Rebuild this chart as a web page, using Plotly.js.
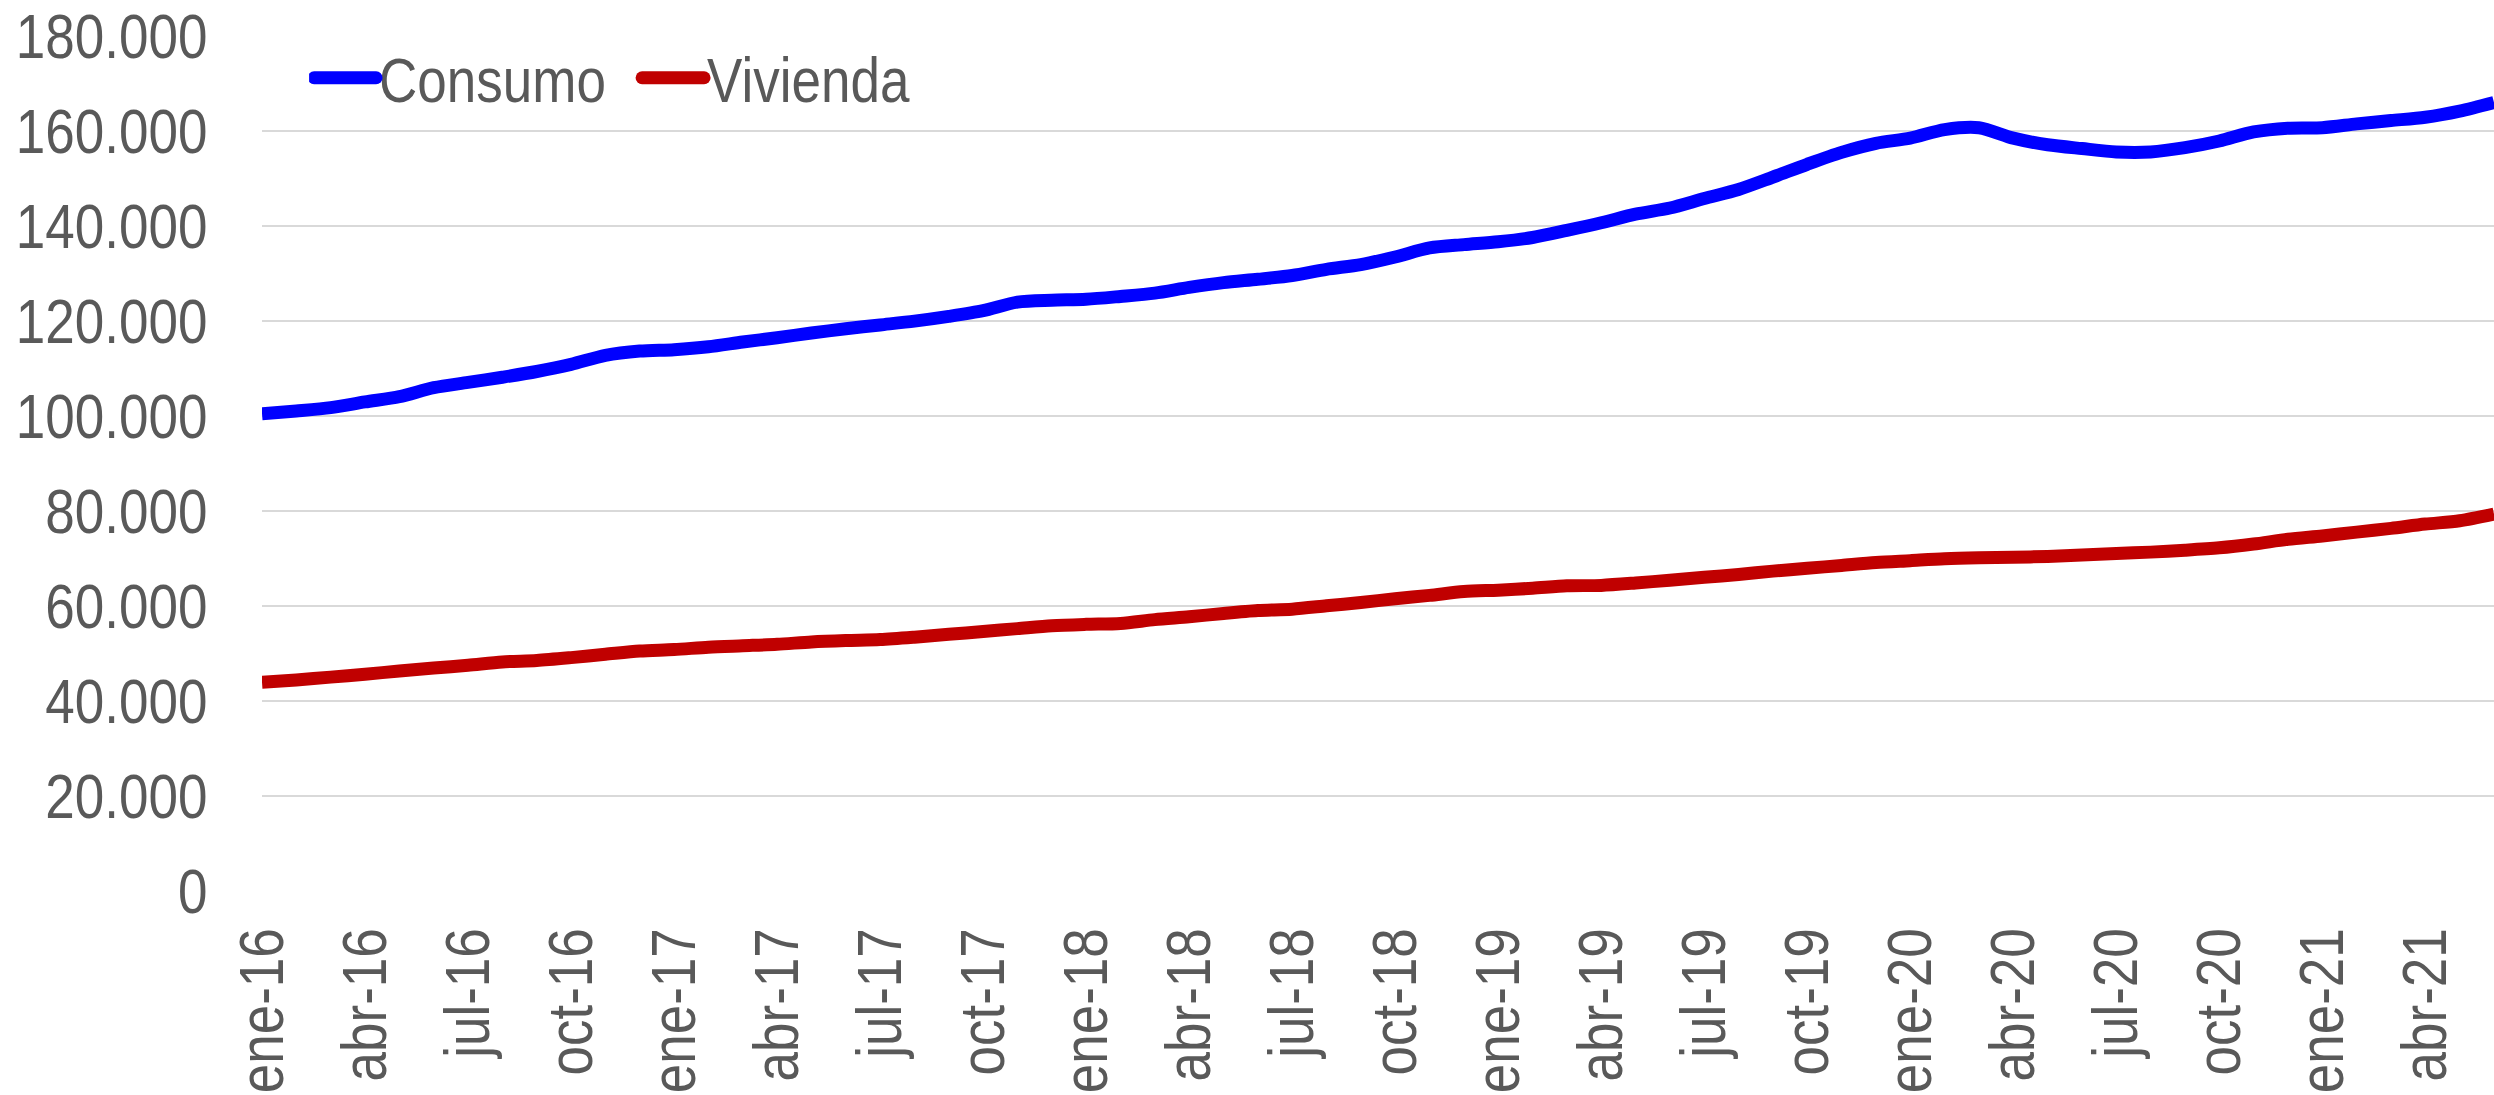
<!DOCTYPE html>
<html>
<head>
<meta charset="utf-8">
<script src="https://cdn.plot.ly/plotly-3.0.1.min.js"></script>
<style>
  html, body { margin: 0; padding: 0; background: #ffffff; }
  #chart { width: 2494px; height: 1095px; }
</style>
</head>
<body>
<div id="chart"></div>
<script>
// Monthly categories, ene-16 .. jun-21
const months = [
  'ene-16','feb-16','mar-16','abr-16','may-16','jun-16','jul-16','ago-16','sep-16','oct-16','nov-16','dic-16',
  'ene-17','feb-17','mar-17','abr-17','may-17','jun-17','jul-17','ago-17','sep-17','oct-17','nov-17','dic-17',
  'ene-18','feb-18','mar-18','abr-18','may-18','jun-18','jul-18','ago-18','sep-18','oct-18','nov-18','dic-18',
  'ene-19','feb-19','mar-19','abr-19','may-19','jun-19','jul-19','ago-19','sep-19','oct-19','nov-19','dic-19',
  'ene-20','feb-20','mar-20','abr-20','may-20','jun-20','jul-20','ago-20','sep-20','oct-20','nov-20','dic-20',
  'ene-21','feb-21','mar-21','abr-21','may-21','jun-21'
];

// Tick labels shown on the x axis (every three months)
const tickLabels = [
  'ene-16','abr-16','jul-16','oct-16',
  'ene-17','abr-17','jul-17','oct-17',
  'ene-18','abr-18','jul-18','oct-18',
  'ene-19','abr-19','jul-19','oct-19',
  'ene-20','abr-20','jul-20','oct-20',
  'ene-21','abr-21'
];

// Consumo
const consumo = [
  100400, 101000, 101700, 102900, 104000, 105900, 107000, 108100, 109300, 110800, 112700, 113600,
  113900, 114500, 115500, 116400, 117400, 118300, 119100, 119900, 120900, 122100, 123900, 124300,
  124500, 125100, 125800, 127000, 128000, 128700, 129500, 130800, 131800, 133400, 135300, 136000,
  136600, 137500, 139000, 140600, 142400, 143700, 145700, 147600, 150200, 152900, 155400, 157300,
  158400, 160200, 160600, 158400, 157000, 156200, 155500, 155500, 156400, 157800, 159700, 160500,
  160600, 161400, 162100, 162800, 164100, 165900
];

// Vivienda
const vivienda = [
  43900, 44400, 45000, 45600, 46300, 46900, 47500, 48200, 48500, 49100, 49800, 50500,
  50800, 51300, 51600, 51900, 52400, 52700, 52900, 53400, 54000, 54600, 55200, 55800,
  56100, 56300, 57100, 57700, 58400, 59000, 59300, 60000, 60700, 61500, 62200, 63000,
  63300, 63700, 64200, 64300, 64800, 65400, 66000, 66600, 67300, 67900, 68500, 69100,
  69500, 69900, 70100, 70200, 70400, 70700, 71000, 71300, 71700, 72200, 73000, 74000,
  74700, 75500, 76300, 77200, 77900, 79300
];

const yTicks = [0, 20000, 40000, 60000, 80000, 100000, 120000, 140000, 160000, 180000];

const mainFont = '"Liberation Sans", Arial, sans-serif';
const textColor = '#595959';

const traces = [
  {
    x: months, y: consumo, name: 'Consumo', type: 'scatter', mode: 'lines',
    line: { color: '#0000FF', width: 13, shape: 'spline', smoothing: 0.8 },
    hoverinfo: 'skip'
  },
  {
    x: months, y: vivienda, name: 'Vivienda', type: 'scatter', mode: 'lines',
    line: { color: '#C00000', width: 13, shape: 'spline', smoothing: 0.8 },
    hoverinfo: 'skip'
  }
];

const layout = {
  width: 2494, height: 1095,
  margin: { l: 262, r: 0, t: 35, b: 204, pad: 0 },
  paper_bgcolor: '#ffffff', plot_bgcolor: '#ffffff',
  separators: ',.',
  showlegend: true,
  legend: {
    orientation: 'h', x: 0.0211, y: 0.95, xanchor: 'left', yanchor: 'middle',
    font: { family: mainFont, size: 53, color: textColor },
    bgcolor: 'rgba(0,0,0,0)', entrywidth: 253, entrywidthmode: 'pixels',
    itemwidth: 60
  },
  xaxis: {
    type: 'category', range: [0, 65],
    tickmode: 'array', tickvals: tickLabels, ticktext: tickLabels,
    tickangle: -90,
    tickfont: { family: mainFont, size: 53, color: textColor },
    ticks: 'outside', ticklen: 15, tickcolor: 'rgba(0,0,0,0)',
    showgrid: false, showline: false, zeroline: false, automargin: false,
    fixedrange: true
  },
  yaxis: {
    range: [0, 180100],
    tickmode: 'array', tickvals: yTicks, tickformat: ',',
    tickfont: { family: mainFont, size: 53, color: textColor },
    ticks: 'outside', ticklen: 43, tickcolor: 'rgba(0,0,0,0)',
    showgrid: true, gridcolor: '#d9d9d9', gridwidth: 2,
    zeroline: false, showline: false, automargin: false,
    fixedrange: true
  }
};

// The reference typeface is tall and narrow: stretch glyph height of the labels.
function stretchGlyphs(el, sy) {
  const b = el.getBBox();
  const cy = b.y + b.height / 2;
  const t = el.getAttribute('transform') || '';
  el.setAttribute('transform', t + ' translate(0,' + cy + ') scale(1,' + sy + ') translate(0,' + (-cy) + ')');
}

Plotly.newPlot('chart', traces, layout, { displayModeBar: false, staticPlot: true }).then(function (gd) {
  gd.querySelectorAll('.ytick text').forEach(function (el) { stretchGlyphs(el, 1.2); });
  gd.querySelectorAll('.xtick text').forEach(function (el) { stretchGlyphs(el, 1.2); });
  gd.querySelectorAll('.legendtext').forEach(function (el) { stretchGlyphs(el, 1.2); });
  gd.querySelectorAll('.legendlines path').forEach(function (p) {
    p.setAttribute('d', 'M5,0h62');
    p.style.strokeLinecap = 'round';
    p.style.strokeWidth = '13px';
  });
});
</script>
</body>
</html>
